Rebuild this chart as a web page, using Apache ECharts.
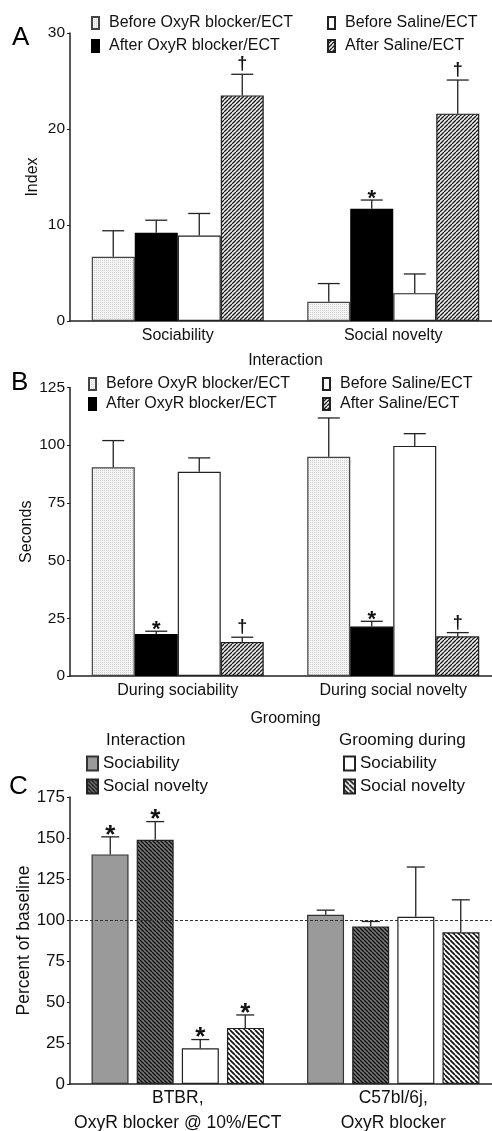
<!DOCTYPE html>
<html>
<head>
<meta charset="utf-8">
<script src="https://cdn.jsdelivr.net/npm/echarts@6/dist/echarts.min.js"></script>
<style>
  html, body { margin: 0; padding: 0; background: #fff; }
  #chart { width: 492px; height: 1131px; }
</style>
</head>
<body>
<div id="chart"></div>
<script>
// ---------- Panel A: interaction index ----------
const categoriesA = ['Sociability', 'Social novelty'];
const beforeOxyA = [6.7, 2.0];
const beforeOxyA_sem = [2.7, 1.9];
const afterOxyA = [9.2, 11.7];
const afterOxyA_sem = [1.3, 0.9];
const afterOxyA_sig = ['', '*'];
const beforeSalA = [8.9, 2.9];
const beforeSalA_sem = [2.3, 2.0];
const afterSalA = [23.5, 21.6];
const afterSalA_sem = [2.2, 3.5];
const afterSalA_sig = ['\u2020', '\u2020'];

// ---------- Panel B: grooming seconds ----------
const categoriesB = ['During sociability', 'During social novelty'];
const beforeOxyB = [90.4, 95.0];
const beforeOxyB_sem = [11.6, 16.8];
const afterOxyB = [18.2, 21.4];
const afterOxyB_sem = [1.2, 2.3];
const afterOxyB_sig = ['*', '*'];
const beforeSalB = [88.5, 99.7];
const beforeSalB_sem = [6.0, 5.3];
const afterSalB = [14.7, 17.2];
const afterSalB_sem = [2.1, 1.6];
const afterSalB_sig = ['\u2020', '\u2020'];

// ---------- Panel C: percent of baseline ----------
const categoriesC = ['BTBR,\nOxyR blocker @ 10%/ECT', 'C57bl/6j,\nOxyR blocker'];
const interSocC = [140.0, 103.2];
const interSocC_sem = [10.7, 2.8];
const interSocC_sig = ['*', ''];
const interNovC = [148.9, 96.1];
const interNovC_sem = [11.1, 3.0];
const interNovC_sig = ['*', ''];
const groomSocC = [21.8, 102.0];
const groomSocC_sem = [5.3, 30.3];
const groomSocC_sig = ['*', ''];
const groomNovC = [34.2, 92.5];
const groomNovC_sem = [7.9, 19.8];
const groomNovC_sig = ['*', ''];
const baselineC = 100;

const yTicksA = { min: 0, max: 30, interval: 10 };
const yTicksB = { min: 0, max: 125, interval: 25 };
const yTicksC = { min: 0, max: 175, interval: 25 };

// ---------- fill patterns ----------
function hatch(bg, fg, size, lw, dir) {
  const c = document.createElement('canvas');
  c.width = size; c.height = size;
  const g = c.getContext('2d');
  g.fillStyle = bg; g.fillRect(0, 0, size, size);
  g.strokeStyle = fg; g.lineWidth = lw;
  g.beginPath();
  for (let o = -size; o <= size; o += size) {
    if (dir === '/') { g.moveTo(o, size); g.lineTo(o + size, 0); }
    else { g.moveTo(o, 0); g.lineTo(o + size, size); }
  }
  g.stroke();
  return { image: c, repeat: 'repeat' };
}
function dots(bg, fg) {
  const c = document.createElement('canvas');
  c.width = 2; c.height = 2;
  const g = c.getContext('2d');
  g.fillStyle = bg; g.fillRect(0, 0, 2, 2);
  g.fillStyle = fg; g.fillRect(0, 0, 1, 1);
  return { image: c, repeat: 'repeat' };
}

const fillBeforeOxy = dots('#f4f4f4', '#cfcfcf');
const fillAfterSal = hatch('#f2f2f2', '#1a1a1a', 4, 1.3, '/');
const fillInterNov = hatch('#7a7a7a', '#111', 4, 1.4, '\\');
const fillGroomNov = hatch('#fff', '#111', 5, 1.7, '\\');

const TXT = '#111';
const FONT = '"Liberation Sans", Arial, sans-serif';

// ---------- grids (the category axis runs on past the right edge) ----------
const grids = [
  { left: 70, top: 33, width: 431, height: 288, outerBoundsMode: 'none' },
  { left: 70, top: 387.5, width: 431, height: 288.5, outerBoundsMode: 'none' },
  { left: 70, top: 797, width: 431, height: 287, outerBoundsMode: 'none' }
];

function xAxis(idx, cats, name, fs, extra) {
  return Object.assign({
    type: 'category', gridIndex: idx, data: cats,
    name: name, nameLocation: 'middle', nameGap: 32,
    nameTextStyle: { color: TXT, fontSize: fs, fontFamily: FONT },
    axisLine: { lineStyle: { color: '#222', width: 1.5 } },
    axisTick: { show: false },
    axisLabel: { color: TXT, fontSize: fs, fontFamily: FONT, margin: 7, interval: 0 }
  }, extra || {});
}
function yAxis(idx, t, name, fs, gap) {
  return {
    type: 'value', gridIndex: idx, min: t.min, max: t.max, interval: t.interval,
    name: name, nameLocation: 'middle', nameGap: gap, nameMoveOverlap: false,
    nameTextStyle: { color: TXT, fontSize: fs, fontFamily: FONT },
    axisLine: { show: true, lineStyle: { color: '#222', width: 1.5 } },
    axisTick: { show: true, length: 3, lineStyle: { color: '#222' } },
    splitLine: { show: false },
    axisLabel: { color: TXT, fontSize: fs - 0.5, fontFamily: FONT, margin: 5 }
  };
}

// ---------- error bars + significance marks ----------
function errSeries(panel, k, step, capW, means, sems, sigs, sigSize) {
  const data = means.map((m, i) => [i, m, m + sems[i], sigs ? sigs[i] : '']);
  return {
    type: 'custom', xAxisIndex: panel, yAxisIndex: panel, clip: false, z: 5,
    silent: true,
    renderItem: function (params, api) {
      const i = api.value(0);
      const p0 = api.coord([i, api.value(1)]);
      const p1 = api.coord([i, api.value(2)]);
      const x = p0[0] + (k - 1.5) * step;
      const lab = data[params.dataIndex][3];
      const children = [
        { type: 'line', shape: { x1: x, y1: p0[1], x2: x, y2: p1[1] },
          style: { stroke: '#222', lineWidth: 1.3 } },
        { type: 'line', shape: { x1: x - capW / 2, y1: p1[1], x2: x + capW / 2, y2: p1[1] },
          style: { stroke: '#222', lineWidth: 1.3 } }
      ];
      if (lab) {
        const isStar = lab === '*';
        children.push({
          type: 'text',
          style: {
            text: lab, x: x, y: isStar ? p1[1] - 1.5 : p1[1] - 1,
            align: 'center', verticalAlign: isStar ? 'middle' : 'bottom',
            fontSize: isStar ? sigSize : 18,
            fontWeight: 'bold',
            fontFamily: FONT, fill: '#111'
          }
        });
      }
      return { type: 'group', children: children };
    },
    data: data
  };
}

function bar(panel, name, vals, color, border, width, gap) {
  return {
    type: 'bar', name: name, xAxisIndex: panel, yAxisIndex: panel,
    data: vals, barWidth: width, barGap: gap,
    itemStyle: { color: color, borderColor: border, borderWidth: 1.2 },
    emphasis: { disabled: true }
  };
}

const nBO = 'Before OxyR blocker/ECT';
const nAO = 'After OxyR blocker/ECT';
const nBS = 'Before Saline/ECT';
const nAS = 'After Saline/ECT';

const series = [
  // A
  bar(0, nBO, beforeOxyA, fillBeforeOxy, '#444', 43, '0%'),
  bar(0, nAO, afterOxyA, '#000', '#000', 43, '0%'),
  bar(0, nBS, beforeSalA, '#fff', '#222', 43, '0%'),
  bar(0, nAS, afterSalA, fillAfterSal, '#222', 43, '0%'),
  errSeries(0, 0, 43, 22, beforeOxyA, beforeOxyA_sem, null, 22),
  errSeries(0, 1, 43, 22, afterOxyA, afterOxyA_sem, afterOxyA_sig, 22),
  errSeries(0, 2, 43, 22, beforeSalA, beforeSalA_sem, null, 22),
  errSeries(0, 3, 43, 22, afterSalA, afterSalA_sem, afterSalA_sig, 22),
  // B
  bar(1, nBO, beforeOxyB, fillBeforeOxy, '#444', 43, '0%'),
  bar(1, nAO, afterOxyB, '#000', '#000', 43, '0%'),
  bar(1, nBS, beforeSalB, '#fff', '#222', 43, '0%'),
  bar(1, nAS, afterSalB, fillAfterSal, '#222', 43, '0%'),
  errSeries(1, 0, 43, 22, beforeOxyB, beforeOxyB_sem, null, 22),
  errSeries(1, 1, 43, 22, afterOxyB, afterOxyB_sem, afterOxyB_sig, 22),
  errSeries(1, 2, 43, 22, beforeSalB, beforeSalB_sem, null, 22),
  errSeries(1, 3, 43, 22, afterSalB, afterSalB_sem, afterSalB_sig, 22),
  // C
  Object.assign(bar(2, 'Interaction|Sociability', interSocC, '#9a9a9a', '#333', 37, '22%'), {
    markLine: {
      silent: true, symbol: ['none', 'none'], label: { show: false },
      lineStyle: { type: [3, 2], color: '#333', width: 1 },
      data: [{ yAxis: baselineC }]
    }
  }),
  bar(2, 'Interaction|Social novelty', interNovC, fillInterNov, '#222', 37, '22%'),
  bar(2, 'Grooming|Sociability', groomSocC, '#fff', '#222', 37, '22%'),
  bar(2, 'Grooming|Social novelty', groomNovC, fillGroomNov, '#222', 37, '22%'),
  errSeries(2, 0, 45, 18, interSocC, interSocC_sem, interSocC_sig, 26),
  errSeries(2, 1, 45, 18, interNovC, interNovC_sem, interNovC_sig, 26),
  errSeries(2, 2, 45, 18, groomSocC, groomSocC_sem, groomSocC_sig, 26),
  errSeries(2, 3, 45, 18, groomNovC, groomNovC_sem, groomNovC_sig, 26)
];

function legend(left, top, names, fs, gap, iw, ih, textGap) {
  return {
    left: left, top: top, orient: 'vertical', data: names,
    selectedMode: false, itemGap: gap, itemWidth: iw, itemHeight: ih,
    icon: 'rect',
    padding: 0,
    formatter: n => n.indexOf('|') >= 0 ? n.split('|')[1] : n,
    textStyle: { color: TXT, fontSize: fs, fontFamily: FONT, lineHeight: fs, padding: [0, 0, 0, textGap] }
  };
}

const option = {
  animation: false,
  backgroundColor: '#fff',
  textStyle: { fontFamily: FONT },
  grid: grids,
  xAxis: [
    xAxis(0, categoriesA, 'Interaction', 16),
    xAxis(1, categoriesB, 'Grooming', 16, { nameGap: 35 }),
    Object.assign(xAxis(2, categoriesC, '', 17.5), {
      axisLabel: { color: TXT, fontSize: 17.5, fontFamily: FONT, margin: 2, lineHeight: 25, interval: 0 }
    })
  ],
  yAxis: [
    yAxis(0, yTicksA, 'Index', 16, 29),
    yAxis(1, yTicksB, 'Seconds', 16, 35),
    yAxis(2, yTicksC, 'Percent of baseline', 17.5, 37)
  ],
  legend: [
    legend(91, 15, [nBO, nAO], 16, 7, 7, 12, 5),
    legend(327, 15, [nBS, nAS], 16, 7, 7, 12, 5),
    legend(88, 376, [nBO, nAO], 16, 4, 7, 12, 5),
    legend(322, 376, [nBS, nAS], 16, 4, 7, 12, 5),
    legend(86, 755, ['Interaction|Sociability', 'Interaction|Social novelty'], 17, 6, 11, 14, 0),
    legend(343, 755, ['Grooming|Sociability', 'Grooming|Social novelty'], 17, 6, 11, 14, 0)
  ],
  graphic: [
    { type: 'text', left: 12, top: 25, style: { text: 'A', fontSize: 26, fontFamily: FONT, fill: '#000' } },
    { type: 'text', left: 11, top: 370, style: { text: 'B', fontSize: 26, fontFamily: FONT, fill: '#000' } },
    { type: 'text', left: 9, top: 774, style: { text: 'C', fontSize: 26, fontFamily: FONT, fill: '#000' } },
    { type: 'text', left: 106, top: 732, style: { text: 'Interaction', fontSize: 17, fontFamily: FONT, fill: TXT } },
    { type: 'text', left: 339, top: 732, style: { text: 'Grooming during', fontSize: 17, fontFamily: FONT, fill: TXT } }
  ],
  series: series
};

const chart = echarts.init(document.getElementById('chart'), null, { renderer: 'canvas' });
chart.setOption(option);
</script>
</body>
</html>
